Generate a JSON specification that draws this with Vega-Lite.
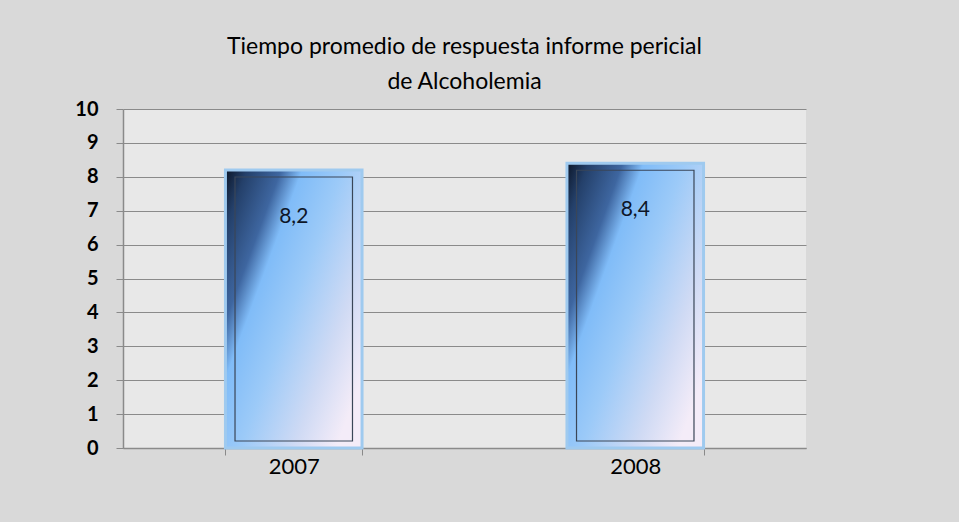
{
  "$schema": "https://vega.github.io/schema/vega-lite/v6.json",
  "autosize": "none",
  "width": 683,
  "height": 339,
  "padding": {"left": 123, "top": 109, "right": 153, "bottom": 74},
  "background": "#d9d9d9",
  "title": {
    "text": ["Tiempo promedio de respuesta informe pericial", "de Alcoholemia"],
    "font": "Lato",
    "fontSize": 23,
    "fontWeight": "normal",
    "color": "#000000",
    "anchor": "middle",
    "lineHeight": 35,
    "offset": 5
  },
  "config": {
    "view": {"fill": "#e8e8e8", "stroke": null},
    "axis": {"labelFont": "Lato", "labelColor": "#000000", "domainColor": "#8a8a8a", "tickColor": "#8a8a8a", "gridColor": "#8a8a8a"}
  },
  "data": {
    "values": [
      {"year": "2007", "value": 8.2, "label": "8,2"},
      {"year": "2008", "value": 8.4, "label": "8,4"}
    ]
  },
  "encoding": {
    "x": {
      "field": "year", "type": "nominal",
      "scale": {"paddingInner": 0.6, "paddingOuter": 0.3},
      "axis": {"title": null, "labelAngle": 0, "labelFontSize": 22, "labelPadding": 1, "tickBand": "extent", "tickSize": 7, "domainWidth": 1.5}
    },
    "y": {
      "field": "value", "type": "quantitative",
      "scale": {"domain": [0, 10], "nice": false},
      "axis": {"title": null, "tickCount": 12, "values": [0,1,2,3,4,5,6,7,8,9,10], "labelOverlap": false, "labelFontSize": 20, "labelFontWeight": "bold", "labelPadding": 18, "tickSize": 7, "grid": true, "gridWidth": 1.2, "domainWidth": 1.5}
    }
  },
  "layer": [
    {
      "mark": {
        "type": "bar",
        "stroke": "#9fcaef",
        "strokeWidth": 3,
        "fill": {
          "gradient": "linear", "x1": 0, "y1": 0, "x2": 1, "y2": 0.75,
          "stops": [
            {"offset": 0, "color": "#0c1628"},
            {"offset": 0.1, "color": "#24406a"},
            {"offset": 0.26, "color": "#3e66a0"},
            {"offset": 0.36, "color": "#80bcf8"},
            {"offset": 0.55, "color": "#9ccaf8"},
            {"offset": 0.8, "color": "#cfdaf4"},
            {"offset": 1, "color": "#f4ecf8"}
          ]
        }
      }
    },
    {
      "mark": {"type": "bar", "fill": null, "stroke": "#3a4658", "strokeWidth": 1.2, "width": {"band": 0.86}, "yOffset": 7, "y2Offset": -7},
      "encoding": {
        "y2": {"datum": 0}
      }
    },
    {
      "mark": {"type": "text", "font": "Lato", "fontSize": 21, "color": "#0e1628", "baseline": "middle", "dy": 47},
      "encoding": {
        "text": {"field": "label"}
      }
    }
  ]
}
